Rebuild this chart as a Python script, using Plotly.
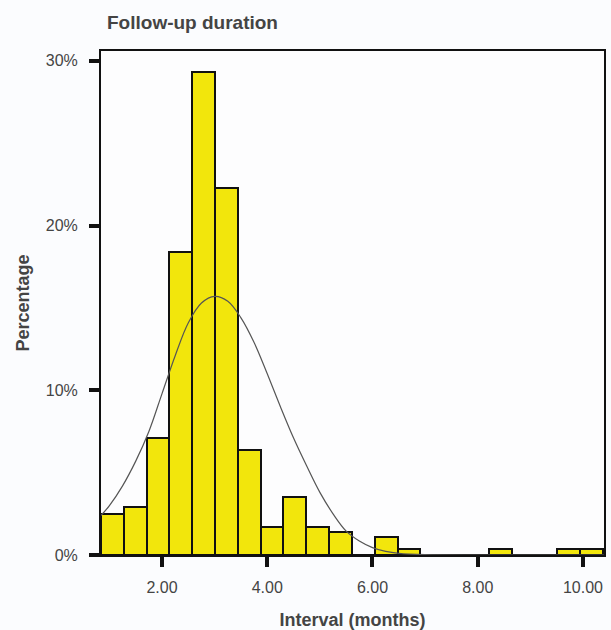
import plotly.graph_objects as go

# Histogram bins (months)
bin_start = 0.84
bin_width = 0.4335
percentages = [2.47, 2.9, 7.09, 18.4, 29.35, 22.26, 6.37, 1.72, 3.5, 1.72, 1.42,
               0.0, 1.07, 0.35, 0.0, 0.0, 0.0, 0.35, 0.0, 0.0, 0.35, 0.35]

# Fitted normal curve
curve_x = [0.84, 1.0, 1.25, 1.5, 1.75, 2.0, 2.25, 2.5, 2.75, 3.0, 3.25, 3.5, 3.75,
           4.0, 4.25, 4.5, 4.75, 5.0, 5.25, 5.5, 5.75, 6.0, 6.25, 6.5, 7.0, 8.0, 9.0, 10.4]
curve_y = [2.4, 3.0, 4.2, 5.7, 7.5, 9.8, 12.1, 14.1, 15.3, 15.7, 15.4, 14.4, 12.9,
           11.0, 9.0, 7.1, 5.4, 3.8, 2.5, 1.45, 0.85, 0.45, 0.22, 0.1, 0.02, 0.0, 0.0, 0.0]

y_ticks = [0, 10, 20, 30]
y_tick_labels = ["0%", "10%", "20%", "30%"]
x_ticks = [2, 4, 6, 8, 10]
x_tick_labels = ["2.00", "4.00", "6.00", "8.00", "10.00"]

centers = [bin_start + bin_width * (i + 0.5) for i in range(len(percentages))]

fig = go.Figure()
fig.add_trace(go.Bar(
    x=centers, y=percentages, width=bin_width,
    marker=dict(color="#f2e60c", line=dict(color="#111111", width=2)),
    hoverinfo="x+y",
))
fig.add_trace(go.Scatter(
    x=curve_x, y=curve_y, mode="lines", line=dict(color="#555555", width=1.2, shape="spline"),
    hoverinfo="skip",
))

font_family = "Liberation Sans, Arial, sans-serif"
text_color = "#444444"
fig.update_layout(
    width=611, height=630,
    margin=dict(l=101, r=7, t=51, b=75),
    paper_bgcolor="#fbfcfe", plot_bgcolor="#fdfdfe",
    showlegend=False, bargap=0,
    font=dict(family=font_family, color=text_color, size=16),
    title=dict(text="<b>Follow-up duration</b>", x=107 / 611, xref="container", xanchor="left",
               y=1 - 22 / 630, yref="container", yanchor="middle",
               font=dict(size=19, color=text_color)),
)
fig.update_xaxes(
    range=[0.84, 10.4], tickvals=x_ticks, ticktext=x_tick_labels,
    ticks="outside", ticklen=10, tickwidth=3.5, tickcolor="#111111",
    ticklabelstandoff=7, automargin=False,
    showline=True, linecolor="#111111", linewidth=2, mirror=True,
    showgrid=False, zeroline=False,
    title=dict(text="<b>Interval (months)</b>", standoff=22, font=dict(size=18)),
    tickfont=dict(size=16),
)
fig.update_yaxes(
    range=[0, 30.6], tickvals=y_ticks, ticktext=y_tick_labels,
    ticks="outside", ticklen=10, tickwidth=3.5, tickcolor="#111111",
    ticklabelstandoff=8, automargin=False,
    showline=True, linecolor="#111111", linewidth=2, mirror=True,
    showgrid=False, zeroline=False,
    title=dict(text="<b>Percentage</b>", standoff=11, font=dict(size=18)),
    tickfont=dict(size=16),
)

fig.write_html("out.html", config={"displayModeBar": False},
               post_script="document.body.style.margin='0px';")
